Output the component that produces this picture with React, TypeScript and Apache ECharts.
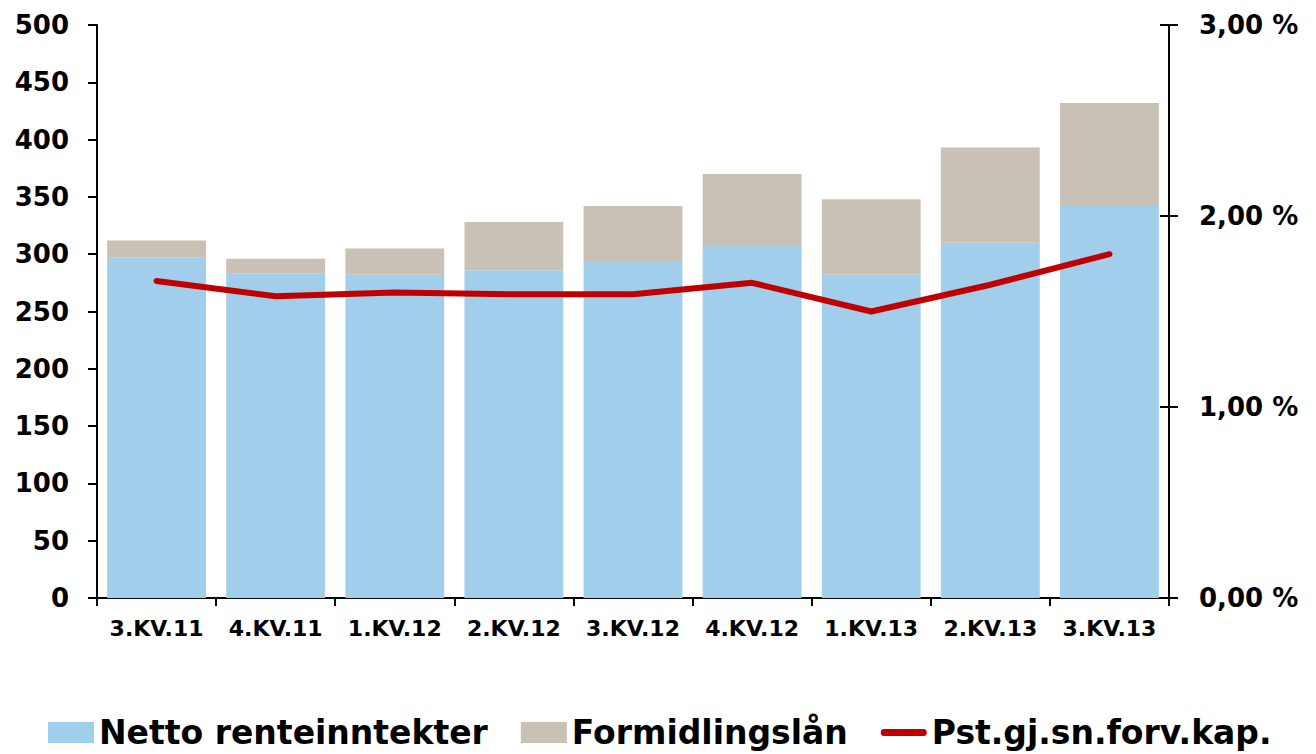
import React, { useEffect, useRef } from "react";
import * as echarts from "echarts";

const categories = ["3.KV.11", "4.KV.11", "1.KV.12", "2.KV.12", "3.KV.12", "4.KV.12", "1.KV.13", "2.KV.13", "3.KV.13"];
const nettoRenteinntekter = [297, 283, 282, 286, 294, 308, 282, 310, 342];
const formidlingslan = [15, 13, 23, 42, 48, 62, 66, 83, 90];
const pstForvKap = [1.66, 1.58, 1.6, 1.59, 1.59, 1.65, 1.5, 1.64, 1.8];

const FONT = "DejaVu Sans";

export default function App() {
  const ref = useRef<HTMLDivElement>(null);
  useEffect(() => {
    if (!ref.current) return;
    const chart = echarts.init(ref.current, null, { renderer: "svg" });
    chart.setOption({
      animation: false,
      backgroundColor: "#ffffff",
      textStyle: { fontFamily: FONT },
      grid: { left: 97, right: 147, top: 25, bottom: 156 },
      legend: {
        left: 48,
        top: 716,
        padding: 0,
        itemWidth: 46,
        itemHeight: 21,
        itemGap: 33,
        textStyle: { fontFamily: FONT, fontSize: 33, fontWeight: "bold", color: "#000" },
        data: [
          { name: "Netto renteinntekter", icon: "rect" },
          { name: "Formidlingslån", icon: "rect" },
          {
            name: "Pst.gj.sn.forv.kap.",
            icon: "path://M0,0 L0.5,0 M3,7 L43,7 Q46,7 46,10.5 Q46,14 43,14 L3,14 Q0,14 0,10.5 Q0,7 3,7 Z M45.5,21 L46,21",
            itemStyle: { color: "#C00000" },
          },
        ],
      },
      xAxis: {
        type: "category",
        data: categories,
        axisLine: { lineStyle: { color: "#000", width: 2 } },
        axisTick: { show: true, length: 8, lineStyle: { color: "#000", width: 2 } },
        axisLabel: { interval: 0, fontFamily: FONT, fontSize: 22, fontWeight: "bold", color: "#000", margin: 19 },
      },
      yAxis: [
        {
          type: "value",
          min: 0,
          max: 500,
          interval: 50,
          position: "left",
          splitLine: { show: false },
          axisLine: { show: true, lineStyle: { color: "#000", width: 2 } },
          axisTick: { show: true, length: 9, lineStyle: { color: "#000", width: 2 } },
          axisLabel: { fontFamily: FONT, fontSize: 26, fontWeight: "bold", color: "#000", margin: 28 },
        },
        {
          type: "value",
          min: 0,
          max: 3,
          interval: 1,
          position: "right",
          splitLine: { show: false },
          axisLine: { show: true, lineStyle: { color: "#000", width: 2 } },
          axisTick: { show: true, length: 9, lineStyle: { color: "#000", width: 2 } },
          axisLabel: {
            fontFamily: FONT,
            fontSize: 26,
            fontWeight: "bold",
            color: "#000",
            margin: 30,
            formatter: (v: number) => v.toFixed(2).replace(".", ",") + " %",
          },
        },
        {
          type: "value",
          min: 0,
          max: 3,
          interval: 1,
          position: "right",
          splitLine: { show: false },
          axisLine: { show: false },
          axisTick: { show: true, inside: true, length: 9, lineStyle: { color: "#000", width: 2 } },
          axisLabel: { show: false },
        },
      ],
      series: [
        {
          name: "Netto renteinntekter",
          type: "bar",
          stack: "total",
          data: nettoRenteinntekter,
          barCategoryGap: "17%",
          itemStyle: { color: "#A0CEEB" },
        },
        {
          name: "Formidlingslån",
          type: "bar",
          stack: "total",
          data: formidlingslan,
          barCategoryGap: "17%",
          itemStyle: { color: "#C9C0B6" },
        },
        {
          name: "Pst.gj.sn.forv.kap.",
          type: "line",
          yAxisIndex: 1,
          data: pstForvKap,
          symbol: "none",
          lineStyle: { color: "#C00000", width: 6, cap: "round", join: "round" },
          itemStyle: { color: "#C00000" },
        },
      ],
    });
    return () => chart.dispose();
  }, []);
  return <div ref={ref} style={{ position: "fixed", left: 0, top: 0, width: 1316, height: 754 }} />;
}
